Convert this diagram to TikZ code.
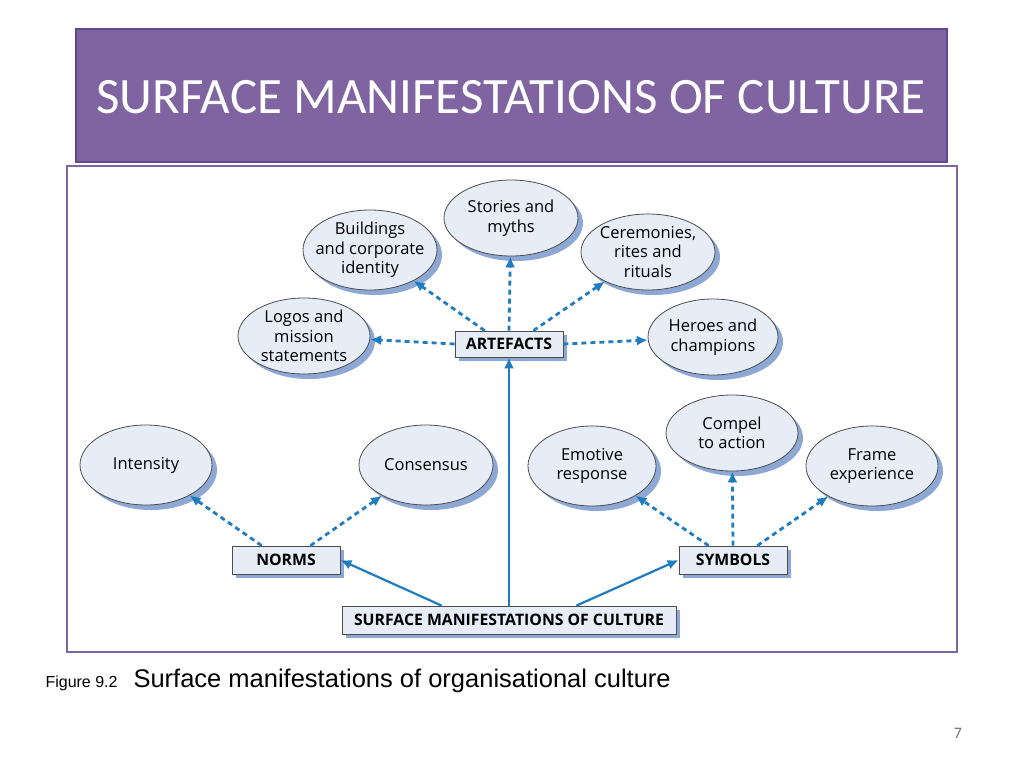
\documentclass[tikz,border=0pt]{standalone}
\usepackage{fontspec}
\setmainfont{Open Sans}
\newfontfamily\titlefont{Carlito}
\newfontfamily\capfont{Liberation Sans}
\usetikzlibrary{shapes.geometric,arrows.meta,shadows}
\definecolor{ellfill}{HTML}{E6EDF6}
\definecolor{shad}{HTML}{8EA8D6}
\definecolor{arr}{HTML}{1F7CC1}
\definecolor{purp}{HTML}{8064A2}
\definecolor{purpd}{HTML}{5F4B8B}
\tikzset{
 ell/.style={ellipse,draw=black!70,line width=0.8pt,fill=ellfill,align=center,font=\fontsize{16.5}{19.5}\selectfont,inner sep=-12pt,
   drop shadow={shadow xshift=5pt,shadow yshift=-5pt,fill=shad,opacity=1}},
 bx/.style={rectangle,draw=black!70,line width=0.8pt,fill=ellfill,font=\bfseries\fontsize{15.8}{19}\selectfont,inner sep=0pt,
   drop shadow={shadow xshift=4pt,shadow yshift=-4pt,fill=shad,opacity=1}},
 dar/.style={arr,line width=2.8pt,dash pattern=on 5pt off 4pt,-{Latex[length=11pt,width=10pt]}},
 sar/.style={arr,line width=2.2pt,-{Latex[length=11pt,width=10pt]}}
}
\begin{document}
\begin{tikzpicture}[x=1pt,y=-1pt]
\useasboundingbox (0,0) rectangle (1024,768);
\fill[white] (0,0) rectangle (1024,768);
\draw[fill=purp,draw=purpd,line width=1.5pt] (76,29) rectangle (947,162);
\node[anchor=west,text=white,font=\titlefont\fontsize{51}{56}\selectfont] (title) at (93,97) {SURFACE MANIFESTATIONS OF CULTURE};
\draw[purp,line width=2pt] (67,166) rectangle (957,652);
\node[ell,minimum width=134pt,minimum height=76pt] (st) at (511,218) {Stories and\\myths};
\node[ell,minimum width=134pt,minimum height=80pt] (bu) at (370,250) {Buildings\\and corporate\\identity};
\node[ell,minimum width=134pt,minimum height=76pt] (ce) at (648,252) {Ceremonies,\\rites and\\rituals};
\node[ell,minimum width=132pt,minimum height=76pt] (lo) at (304,336) {Logos and\\mission\\statements};
\node[ell,minimum width=130pt,minimum height=76pt] (he) at (713,337) {Heroes and\\champions};
\node[ell,minimum width=132pt,minimum height=80pt] (in) at (146,465) {Intensity};
\node[ell,minimum width=134pt,minimum height=80pt] (co) at (426,465) {Consensus};
\node[ell,minimum width=128pt,minimum height=80pt] (em) at (592,466) {Emotive\\response};
\node[ell,minimum width=132pt,minimum height=76pt] (cp) at (732,433) {Compel\\to action};
\node[ell,minimum width=132pt,minimum height=80pt] (fr) at (872,466) {Frame\\experience};
\node[bx,minimum width=108pt,minimum height=26pt] (ar) at (509,344) {ARTEFACTS};
\node[bx,minimum width=108pt,minimum height=28pt] (no) at (286,560) {NORMS};
\node[bx,minimum width=108pt,minimum height=28pt] (sy) at (733,560) {SYMBOLS};
\node[bx,minimum width=334pt,minimum height=28pt] (su) at (509,620) {SURFACE MANIFESTATIONS OF CULTURE};
\draw[dar] (ar.north) -- (st);
\draw[dar] (ar.north west) ++(30,0) coordinate (a1) -- (bu);
\draw[dar] (ar.north east) ++(-30,0) coordinate (a2) -- (ce);
\draw[dar] (ar.west) -- (lo);
\draw[dar] (ar.east) -- (he);
\draw[dar] (no.north west) ++(30,0) coordinate (n1) -- (in);
\draw[dar] (no.north east) ++(-30,0) coordinate (n2) -- (co);
\draw[dar] (sy.north west) ++(30,0) coordinate (s1) -- (em);
\draw[dar] (sy.north) -- (cp);
\draw[dar] (sy.north east) ++(-30,0) coordinate (s2) -- (fr);
\draw[sar] (su.north) -- (ar.south);
\draw[sar] (su.north west) ++(100,0) coordinate (u1) -- (no.east);
\draw[sar] (su.north east) ++(-100,0) coordinate (u2) -- (sy.west);
\node[anchor=west,font=\capfont\fontsize{16}{18}\selectfont] (f1) at (42,683) {Figure 9.2};
\node[anchor=west,font=\capfont\fontsize{25.5}{28}\selectfont] (f2) at (130,681) {Surface manifestations of organisational culture};
\node[text=black!55,font=\titlefont\fontsize{16}{18}\selectfont] (pg) at (958,733) {7};
\end{tikzpicture}
\end{document}
